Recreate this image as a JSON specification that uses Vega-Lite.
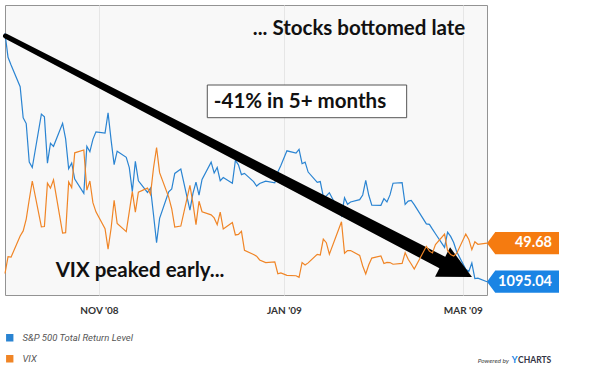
{
  "$schema": "https://vega.github.io/schema/vega-lite/v6.json",
  "width": 482,
  "height": 290,
  "autosize": {"type": "none"},
  "padding": {"left": 5, "top": 5, "right": 113, "bottom": 77},
  "background": "white",
  "config": {
    "view": {"fill": "#f8f8f8", "stroke": "#939393", "strokeWidth": 1},
    "font": "Lato"
  },
  "datasets": {
    "series": [
      {"date": "2008-10-01", "sp": 1879.30, "vix": 39.81},
      {"date": "2008-10-02", "sp": 1803.58, "vix": 45.26},
      {"date": "2008-10-03", "sp": 1779.21, "vix": 45.14},
      {"date": "2008-10-06", "sp": 1710.68, "vix": 52.05},
      {"date": "2008-10-07", "sp": 1612.50, "vix": 53.68},
      {"date": "2008-10-08", "sp": 1594.22, "vix": 57.53},
      {"date": "2008-10-09", "sp": 1472.80, "vix": 63.92},
      {"date": "2008-10-10", "sp": 1455.48, "vix": 69.95},
      {"date": "2008-10-13", "sp": 1624.02, "vix": 54.99},
      {"date": "2008-10-14", "sp": 1615.38, "vix": 55.13},
      {"date": "2008-10-15", "sp": 1469.43, "vix": 69.25},
      {"date": "2008-10-16", "sp": 1531.89, "vix": 67.61},
      {"date": "2008-10-17", "sp": 1522.38, "vix": 70.33},
      {"date": "2008-10-20", "sp": 1594.97, "vix": 52.97},
      {"date": "2008-10-21", "sp": 1545.84, "vix": 53.11},
      {"date": "2008-10-22", "sp": 1451.53, "vix": 69.65},
      {"date": "2008-10-23", "sp": 1469.87, "vix": 67.80},
      {"date": "2008-10-24", "sp": 1419.14, "vix": 79.13},
      {"date": "2008-10-27", "sp": 1374.06, "vix": 80.06},
      {"date": "2008-10-28", "sp": 1522.31, "vix": 66.96},
      {"date": "2008-10-29", "sp": 1505.44, "vix": 69.96},
      {"date": "2008-10-30", "sp": 1544.29, "vix": 62.90},
      {"date": "2008-10-31", "sp": 1568.02, "vix": 59.89},
      {"date": "2008-11-03", "sp": 1564.05, "vix": 54.44},
      {"date": "2008-11-04", "sp": 1627.91, "vix": 47.73},
      {"date": "2008-11-05", "sp": 1542.15, "vix": 54.56},
      {"date": "2008-11-06", "sp": 1464.64, "vix": 63.68},
      {"date": "2008-11-07", "sp": 1506.90, "vix": 56.10},
      {"date": "2008-11-10", "sp": 1487.84, "vix": 53.45},
      {"date": "2008-11-11", "sp": 1455.04, "vix": 59.98},
      {"date": "2008-11-12", "sp": 1379.53, "vix": 66.46},
      {"date": "2008-11-13", "sp": 1475.01, "vix": 59.83},
      {"date": "2008-11-14", "sp": 1413.50, "vix": 66.31},
      {"date": "2008-11-17", "sp": 1377.02, "vix": 67.64},
      {"date": "2008-11-18", "sp": 1390.57, "vix": 65.61},
      {"date": "2008-11-19", "sp": 1305.53, "vix": 74.26},
      {"date": "2008-11-20", "sp": 1217.90, "vix": 80.86},
      {"date": "2008-11-21", "sp": 1294.93, "vix": 72.67},
      {"date": "2008-11-24", "sp": 1378.74, "vix": 64.70},
      {"date": "2008-11-25", "sp": 1387.77, "vix": 60.90},
      {"date": "2008-11-26", "sp": 1436.80, "vix": 54.92},
      {"date": "2008-11-28", "sp": 1450.65, "vix": 55.28},
      {"date": "2008-12-01", "sp": 1321.12, "vix": 68.51},
      {"date": "2008-12-02", "sp": 1373.89, "vix": 62.68},
      {"date": "2008-12-03", "sp": 1409.38, "vix": 55.73},
      {"date": "2008-12-04", "sp": 1368.07, "vix": 63.36},
      {"date": "2008-12-05", "sp": 1418.00, "vix": 59.93},
      {"date": "2008-12-08", "sp": 1472.44, "vix": 58.91},
      {"date": "2008-12-09", "sp": 1438.40, "vix": 57.93},
      {"date": "2008-12-10", "sp": 1455.51, "vix": 55.73},
      {"date": "2008-12-11", "sp": 1413.99, "vix": 59.83},
      {"date": "2008-12-12", "sp": 1423.93, "vix": 54.28},
      {"date": "2008-12-15", "sp": 1405.87, "vix": 56.40},
      {"date": "2008-12-16", "sp": 1478.08, "vix": 52.37},
      {"date": "2008-12-17", "sp": 1463.89, "vix": 52.54},
      {"date": "2008-12-18", "sp": 1432.92, "vix": 53.54},
      {"date": "2008-12-19", "sp": 1437.12, "vix": 47.34},
      {"date": "2008-12-22", "sp": 1410.82, "vix": 46.00},
      {"date": "2008-12-23", "sp": 1397.11, "vix": 45.47},
      {"date": "2008-12-24", "sp": 1405.19, "vix": 44.21},
      {"date": "2008-12-26", "sp": 1412.71, "vix": 43.38},
      {"date": "2008-12-29", "sp": 1407.24, "vix": 43.59},
      {"date": "2008-12-30", "sp": 1441.59, "vix": 39.73},
      {"date": "2008-12-31", "sp": 1462.00, "vix": 40.00},
      {"date": "2009-01-02", "sp": 1508.21, "vix": 39.19},
      {"date": "2009-01-05", "sp": 1501.17, "vix": 39.08},
      {"date": "2009-01-06", "sp": 1512.91, "vix": 38.56},
      {"date": "2009-01-07", "sp": 1467.50, "vix": 43.39},
      {"date": "2009-01-08", "sp": 1472.49, "vix": 42.56},
      {"date": "2009-01-09", "sp": 1441.12, "vix": 43.27},
      {"date": "2009-01-12", "sp": 1408.61, "vix": 46.06},
      {"date": "2009-01-13", "sp": 1411.08, "vix": 45.84},
      {"date": "2009-01-14", "sp": 1363.86, "vix": 51.00},
      {"date": "2009-01-15", "sp": 1365.67, "vix": 49.85},
      {"date": "2009-01-16", "sp": 1376.00, "vix": 46.11},
      {"date": "2009-01-20", "sp": 1303.33, "vix": 56.65},
      {"date": "2009-01-21", "sp": 1360.01, "vix": 46.42},
      {"date": "2009-01-22", "sp": 1339.39, "vix": 47.29},
      {"date": "2009-01-23", "sp": 1346.59, "vix": 47.27},
      {"date": "2009-01-26", "sp": 1354.07, "vix": 45.69},
      {"date": "2009-01-27", "sp": 1368.87, "vix": 42.25},
      {"date": "2009-01-28", "sp": 1414.80, "vix": 39.66},
      {"date": "2009-01-29", "sp": 1367.94, "vix": 42.63},
      {"date": "2009-01-30", "sp": 1336.77, "vix": 44.84},
      {"date": "2009-02-02", "sp": 1336.05, "vix": 45.52},
      {"date": "2009-02-03", "sp": 1357.22, "vix": 43.06},
      {"date": "2009-02-04", "sp": 1347.05, "vix": 43.44},
      {"date": "2009-02-05", "sp": 1369.09, "vix": 43.37},
      {"date": "2009-02-06", "sp": 1405.92, "vix": 42.82},
      {"date": "2009-02-09", "sp": 1408.00, "vix": 43.11},
      {"date": "2009-02-10", "sp": 1338.85, "vix": 46.59},
      {"date": "2009-02-11", "sp": 1349.49, "vix": 44.46},
      {"date": "2009-02-12", "sp": 1351.83, "vix": 42.90},
      {"date": "2009-02-13", "sp": 1338.32, "vix": 41.25},
      {"date": "2009-02-17", "sp": 1277.35, "vix": 48.66},
      {"date": "2009-02-18", "sp": 1276.13, "vix": 47.08},
      {"date": "2009-02-19", "sp": 1260.79, "vix": 46.51},
      {"date": "2009-02-20", "sp": 1246.40, "vix": 49.26},
      {"date": "2009-02-23", "sp": 1203.16, "vix": 52.65},
      {"date": "2009-02-24", "sp": 1251.40, "vix": 47.24},
      {"date": "2009-02-25", "sp": 1238.07, "vix": 45.99},
      {"date": "2009-02-26", "sp": 1218.53, "vix": 45.52},
      {"date": "2009-02-27", "sp": 1189.81, "vix": 46.35},
      {"date": "2009-03-02", "sp": 1134.35, "vix": 52.65},
      {"date": "2009-03-03", "sp": 1127.08, "vix": 50.93},
      {"date": "2009-03-04", "sp": 1153.85, "vix": 47.57},
      {"date": "2009-03-05", "sp": 1104.78, "vix": 50.17},
      {"date": "2009-03-06", "sp": 1106.12, "vix": 49.33},
      {"date": "2009-03-09", "sp": 1095.04, "vix": 49.68}
    ],
    "arrow": [
      {"date": "2008-10-01T04:00:00Z", "value": 1870.7},
      {"date": "2009-02-24T19:00:00Z", "value": 1143.0}
    ],
    "arrowhead": [
      {"date": "2009-03-04T01:00:00Z", "value": 1109.8}
    ],
    "box": [
      {"date": "2008-12-06T17:30:00Z", "date2": "2009-02-10T12:00:00Z", "value": 1716.0, "value2": 1612.8}
    ],
    "notes": [
      {"date": "2009-01-25T19:00:00Z", "value": 1873.9, "label": "... Stocks bottomed late"},
      {"date": "2008-11-14T13:00:00Z", "value": 1109.8, "label": "VIX peaked early..."},
      {"date": "2009-01-06T07:30:00Z", "value": 1644.4, "label": "-41% in 5+ months"}
    ],
    "credit": [
      {"date": "2009-03-16T06:00:00Z", "value": 838.3, "label": "Powered by"},
      {"date": "2009-03-17T03:30:00Z", "value": 838.3, "label": "Y"},
      {"date": "2009-03-19T06:00:00Z", "value": 838.3, "label": "CHARTS"}
    ]
  },
  "encoding": {
    "x": {
      "field": "date",
      "type": "temporal",
      "scale": {
        "type": "utc",
        "domain": [
          {"year": 2008, "month": 10, "date": 1, "utc": true},
          {"year": 2009, "month": 3, "date": 9, "utc": true}
        ]
      },
      "axis": {
        "values": [
          {"year": 2008, "month": 11, "date": 1, "utc": true},
          {"year": 2009, "month": 1, "date": 1, "utc": true},
          {"year": 2009, "month": 3, "date": 1, "utc": true}
        ],
        "labelExpr": "upper(utcFormat(datum.value, \"%b '%y\"))",
        "title": null,
        "ticks": false,
        "domain": false,
        "grid": true,
        "gridColor": "#e6e6e6",
        "labelFont": "Lato",
        "labelFontWeight": "bold",
        "labelFontSize": 10,
        "labelColor": "#333333",
        "labelPadding": 10
      }
    }
  },
  "layer": [
    {
      "layer": [
        {
          "data": {"name": "series"},
          "mark": {"type": "line", "strokeWidth": 1.2},
          "encoding": {
            "y": {
              "field": "sp",
              "type": "quantitative",
              "scale": {"domain": [1053, 1968.6], "zero": false, "nice": false},
              "axis": {
                "values": [1200, 1355, 1511, 1663, 1821],
                "labels": false,
                "ticks": false,
                "domain": false,
                "title": null,
                "grid": true,
                "gridColor": "#e6e6e6"
              }
            },
            "color": {
              "datum": "S&P 500 Total Return Level",
              "scale": {
                "domain": ["S&P 500 Total Return Level", "VIX"],
                "range": ["#2a84d2", "#f08526"]
              },
              "legend": {
                "orient": "none",
                "legendX": 0,
                "legendY": 328,
                "title": null,
                "symbolType": "square",
                "symbolSize": 34,
                "labelFont": "Roboto",
                "labelFontStyle": "italic",
                "labelFontSize": 9.5,
                "labelColor": "#555555",
                "rowPadding": 8,
                "labelOffset": 8,
                "encode": {
                  "symbols": {
                    "update": {
                      "fill": {"scale": "color", "field": "value"},
                      "stroke": {"value": "transparent"},
                      "shape": {"value": "square"}
                    }
                  }
                }
              }
            }
          }
        },
        {
          "data": {"name": "arrow"},
          "mark": {"type": "trail", "color": "#000000"},
          "encoding": {
            "y": {"field": "value", "type": "quantitative", "scale": {"domain": [1053, 1968.6], "zero": false, "nice": false}, "axis": null},
            "size": {"field": "value", "type": "quantitative", "scale": {"domain": [1143.0, 1870.7], "range": [13, 5], "zero": false}, "legend": null}
          }
        },
        {
          "data": {"name": "arrowhead"},
          "mark": {"type": "point", "shape": "M0,0 L-2,-1 L-2,1 Z", "filled": true, "color": "#000000", "opacity": 1, "size": 1089, "angle": 27},
          "encoding": {
            "y": {"field": "value", "type": "quantitative", "scale": {"domain": [1053, 1968.6], "zero": false, "nice": false}, "axis": null}
          }
        },
        {
          "data": {"name": "box"},
          "mark": {"type": "rect", "fill": "#ffffff", "stroke": "#555555", "strokeWidth": 1},
          "encoding": {
            "x2": {"field": "date2"},
            "y": {"field": "value", "type": "quantitative", "scale": {"domain": [1053, 1968.6], "zero": false, "nice": false}, "axis": null},
            "y2": {"field": "value2"}
          }
        },
        {
          "data": {"name": "notes"},
          "mark": {"type": "text", "font": "Lato", "fontWeight": "bold", "fontSize": 20.5, "color": "#111111", "align": "center", "baseline": "alphabetic"},
          "encoding": {
            "y": {"field": "value", "type": "quantitative", "scale": {"domain": [1053, 1968.6], "zero": false, "nice": false}, "axis": null},
            "text": {"field": "label"}
          }
        },
        {
          "data": {"name": "series"},
          "transform": [
            {"window": [{"op": "row_number", "as": "rn"}], "sort": [{"field": "date", "order": "descending"}]},
            {"filter": "datum.rn === 1"}
          ],
          "mark": {"type": "point", "shape": "M0,0 L0.23,-0.31 L2,-0.31 L2,0.31 L0.23,0.31 Z", "filled": true, "color": "#1a84e4", "opacity": 1, "size": 5184},
          "encoding": {
            "y": {"field": "sp", "type": "quantitative", "scale": {"domain": [1053, 1968.6], "zero": false, "nice": false}, "axis": null}
          }
        },
        {
          "data": {"name": "series"},
          "transform": [
            {"window": [{"op": "row_number", "as": "rn"}], "sort": [{"field": "date", "order": "descending"}]},
            {"filter": "datum.rn === 1"}
          ],
          "mark": {"type": "text", "font": "Lato", "fontWeight": "bold", "fontSize": 14.5, "color": "#ffffff", "align": "right", "baseline": "middle", "dx": 65},
          "encoding": {
            "y": {"field": "sp", "type": "quantitative", "scale": {"domain": [1053, 1968.6], "zero": false, "nice": false}, "axis": null},
            "text": {"field": "sp", "type": "quantitative", "format": ".2f"}
          }
        },
        {
          "data": {"name": "credit"},
          "transform": [{"filter": "datum.label === 'Powered by'"}],
          "mark": {"type": "text", "font": "Lato", "fontStyle": "italic", "fontSize": 6.5, "color": "#444444", "align": "right", "baseline": "alphabetic"},
          "encoding": {
            "y": {"field": "value", "type": "quantitative", "scale": {"domain": [1053, 1968.6], "zero": false, "nice": false}, "axis": null},
            "text": {"field": "label"}
          }
        },
        {
          "data": {"name": "credit"},
          "transform": [{"filter": "datum.label === 'Y'"}],
          "mark": {"type": "text", "font": "Lato", "fontWeight": "bold", "fontSize": 9, "color": "#1a84e4", "align": "left", "baseline": "alphabetic"},
          "encoding": {
            "y": {"field": "value", "type": "quantitative", "scale": {"domain": [1053, 1968.6], "zero": false, "nice": false}, "axis": null},
            "text": {"field": "label"}
          }
        },
        {
          "data": {"name": "credit"},
          "transform": [{"filter": "datum.label === 'CHARTS'"}],
          "mark": {"type": "text", "font": "Lato", "fontWeight": "bold", "fontSize": 8.5, "color": "#333344", "align": "left", "baseline": "alphabetic", "letterSpacing": 0.6},
          "encoding": {
            "y": {"field": "value", "type": "quantitative", "scale": {"domain": [1053, 1968.6], "zero": false, "nice": false}, "axis": null},
            "text": {"field": "label"}
          }
        }
      ]
    },
    {
      "layer": [
        {
          "data": {"name": "series"},
          "mark": {"type": "line", "strokeWidth": 1.2},
          "encoding": {
            "y": {"field": "vix", "type": "quantitative", "scale": {"domain": [32.8, 127.3], "zero": false, "nice": false}, "axis": null},
            "color": {
              "datum": "VIX",
              "scale": {
                "domain": ["S&P 500 Total Return Level", "VIX"],
                "range": ["#2a84d2", "#f08526"]
              }
            }
          }
        },
        {
          "data": {"name": "series"},
          "transform": [
            {"window": [{"op": "row_number", "as": "rn"}], "sort": [{"field": "date", "order": "descending"}]},
            {"filter": "datum.rn === 1"}
          ],
          "mark": {"type": "point", "shape": "M0,0 L0.23,-0.31 L2,-0.31 L2,0.31 L0.23,0.31 Z", "filled": true, "color": "#f57b10", "opacity": 1, "size": 5184},
          "encoding": {
            "y": {"field": "vix", "type": "quantitative", "scale": {"domain": [32.8, 127.3], "zero": false, "nice": false}, "axis": null}
          }
        },
        {
          "data": {"name": "series"},
          "transform": [
            {"window": [{"op": "row_number", "as": "rn"}], "sort": [{"field": "date", "order": "descending"}]},
            {"filter": "datum.rn === 1"}
          ],
          "mark": {"type": "text", "font": "Lato", "fontWeight": "bold", "fontSize": 14.5, "color": "#ffffff", "align": "right", "baseline": "middle", "dx": 65},
          "encoding": {
            "y": {"field": "vix", "type": "quantitative", "scale": {"domain": [32.8, 127.3], "zero": false, "nice": false}, "axis": null},
            "text": {"field": "vix", "type": "quantitative", "format": ".2f"}
          }
        }
      ]
    }
  ],
  "resolve": {"scale": {"y": "independent"}}
}
